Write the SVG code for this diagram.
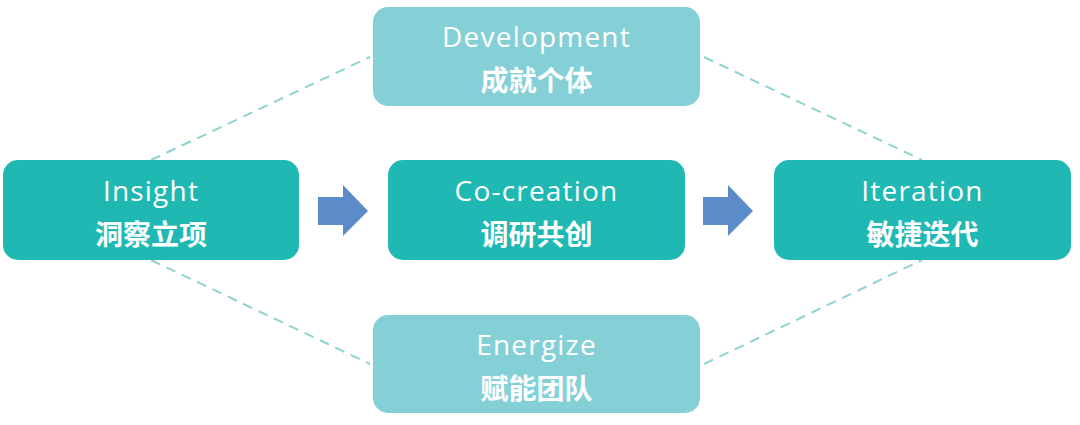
<svg xmlns="http://www.w3.org/2000/svg" width="1080" height="425" viewBox="0 0 1080 425">
  <style>
    .main { fill: #1FB8B2; }
    .side { fill: #84D0D6; }
    .en { font-family: "Open Sans", "Liberation Sans", sans-serif; font-size: 28px; fill: #ffffff; text-anchor: middle; letter-spacing: 1.2px; }
    .zh { font-family: "Noto Sans CJK SC", "Noto Sans", sans-serif; font-size: 28px; font-weight: 700; fill: #ffffff; text-anchor: middle; }
    .dash { stroke: #8ED3D0; stroke-width: 2; stroke-dasharray: 10 7; fill: none; }
    .arrow { fill: #5B8BC9; }
  </style>
  <rect width="1080" height="425" fill="#ffffff"/>
  <g id="connectors">
    <line class="dash" x1="151" y1="160" x2="370" y2="57"/>
    <line class="dash" x1="704" y1="57" x2="922" y2="160"/>
    <line class="dash" x1="151" y1="260" x2="370" y2="364"/>
    <line class="dash" x1="704" y1="364" x2="922" y2="260"/>
    <polygon class="arrow" points="318,197 343,197 343,185 368,211 343,236 343,225 318,225"/>
    <polygon class="arrow" points="703,197 728,197 728,185 753,211 728,236 728,225 703,225"/>
  </g>
  <g id="development">
    <rect class="side" x="373" y="7" width="327" height="99" rx="15"/>
    <text class="en" x="536.5" y="47">Development</text>
    <text class="zh" x="536.5" y="91">成就个体</text>
  </g>
  <g id="insight">
    <rect class="main" x="3" y="160" width="296" height="100" rx="15"/>
    <text class="en" x="151" y="201">Insight</text>
    <text class="zh" x="151" y="245">洞察立项</text>
  </g>
  <g id="cocreation">
    <rect class="main" x="388" y="160" width="297" height="100" rx="15"/>
    <text class="en" x="536.5" y="201">Co-creation</text>
    <text class="zh" x="536.5" y="245">调研共创</text>
  </g>
  <g id="iteration">
    <rect class="main" x="774" y="160" width="297" height="100" rx="15"/>
    <text class="en" x="922.5" y="201">Iteration</text>
    <text class="zh" x="922.5" y="245">敏捷迭代</text>
  </g>
  <g id="energize">
    <rect class="side" x="373" y="315" width="327" height="98" rx="15"/>
    <text class="en" x="536.5" y="355">Energize</text>
    <text class="zh" x="536.5" y="399">赋能团队</text>
  </g>
</svg>
